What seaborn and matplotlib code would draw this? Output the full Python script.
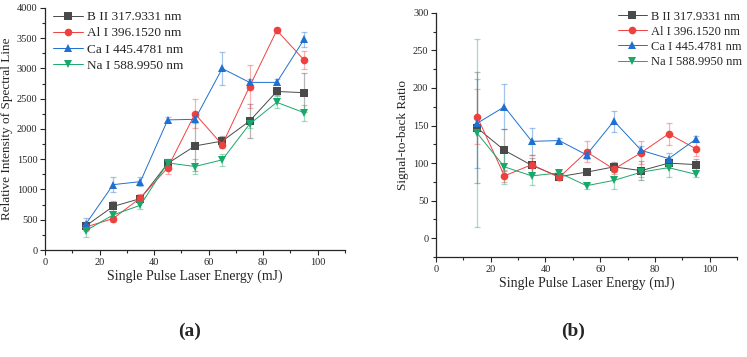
import matplotlib

matplotlib.use("Agg")
import matplotlib.pyplot as plt
import pandas as pd
import seaborn as sns
from matplotlib.ticker import MultipleLocator

energy = [15, 25, 35, 45, 55, 65, 75, 85, 95]
series = ["B II 317.9331 nm", "Al I 396.1520 nm", "Ca I 445.4781 nm", "Na I 588.9950 nm"]
colors = ["#4a4a4a", "#ef4040", "#1f70d0", "#18a86a"]
markers = ["s", "o", "^", "v"]

# (a) relative intensity of spectral line
int_b = [400, 720, 850, 1430, 1720, 1800, 2130, 2620, 2600]
int_al = [380, 520, 860, 1360, 2250, 1740, 2700, 3630, 3140]
int_ca = [430, 1080, 1130, 2150, 2160, 3000, 2770, 2770, 3480]
int_na = [320, 580, 740, 1440, 1380, 1490, 2080, 2440, 2270]
err_int_b = [60, 90, 60, 80, 420, 80, 280, 60, 320]
err_int_al = [60, 50, 60, 100, 240, 60, 350, 40, 150]
err_int_ca = [100, 120, 80, 40, 60, 280, 60, 50, 120]
err_int_na = [110, 60, 60, 60, 130, 100, 60, 100, 130]

# (b) signal-to-back ratio
sbr_b = [147, 117, 97, 82, 88, 95, 90, 100, 98]
sbr_al = [162, 83, 98, 81, 115, 92, 114, 139, 119]
sbr_ca = [153, 175, 129, 130, 111, 156, 117, 106, 132]
sbr_na = [140, 95, 83, 87, 70, 77, 88, 94, 85]
err_sbr_b = [74, 28, 10, 4, 4, 6, 13, 6, 7]
err_sbr_al = [36, 8, 13, 4, 14, 6, 15, 15, 10]
err_sbr_ca = [59, 30, 18, 3, 6, 14, 6, 8, 4]
err_sbr_na = [125, 23, 12, 3, 4, 11, 6, 13, 4]


def long_table(vals, errs):
    rows = []
    for name, v, e in zip(series, vals, errs):
        for x, y, s in zip(energy, v, e):
            rows.append({"energy": x, "value": y, "err": s, "line": name})
    return pd.DataFrame(rows)


df_a = long_table([int_b, int_al, int_ca, int_na],
                  [err_int_b, err_int_al, err_int_ca, err_int_na])
df_b = long_table([sbr_b, sbr_al, sbr_ca, sbr_na],
                  [err_sbr_b, err_sbr_al, err_sbr_ca, err_sbr_na])

sns.set_theme(style="ticks")
plt.rcParams["font.family"] = ["Liberation Serif", "DejaVu Serif"]
palette = dict(zip(series, colors))
mk = dict(zip(series, markers))

fig = plt.figure(figsize=(7.47, 3.57), dpi=100)
ax_a = fig.add_axes([0.0602, 0.2997, 0.4016, 0.678])
ax_b = fig.add_axes([0.5837, 0.2800, 0.4030, 0.684])


def draw(ax, df):
    for name in series:
        sub = df[df["line"] == name]
        ax.errorbar(sub["energy"], sub["value"], yerr=sub["err"], fmt="none",
                    ecolor=palette[name], alpha=0.4, elinewidth=0.9,
                    capsize=2.5, capthick=0.9, zorder=1)
    sns.lineplot(data=df, x="energy", y="value", hue="line", style="line",
                 hue_order=series, style_order=series, palette=palette,
                 markers=mk, dashes=False, markersize=5.5, linewidth=0.7,
                 markeredgewidth=0, ax=ax, zorder=3)
    ax.set_xlim(0, 110)
    ax.xaxis.set_major_locator(MultipleLocator(20))
    ax.xaxis.set_minor_locator(MultipleLocator(10))
    ax.set_xlabel("Single Pulse Laser Energy (mJ)", fontsize=10, labelpad=2)
    for side in ["top", "right"]:
        ax.spines[side].set_visible(False)
    ax.spines["left"].set_linewidth(0.9)
    ax.spines["bottom"].set_linewidth(0.9)
    ax.tick_params(which="major", length=3.5, width=0.8, labelsize=7.5, pad=2)
    ax.tick_params(which="minor", length=2, width=0.8)
    ax.get_legend().remove()


draw(ax_a, df_a)
ax_a.set_ylim(0, 4000)
ax_a.yaxis.set_major_locator(MultipleLocator(500))
ax_a.yaxis.set_minor_locator(MultipleLocator(250))
ax_a.set_ylabel("Relative Intensity of Spectral Line", fontsize=9.5, labelpad=3)

draw(ax_b, df_b)
ax_b.set_ylim(-25, 300)
ax_b.yaxis.set_major_locator(MultipleLocator(50))
ax_b.yaxis.set_minor_locator(MultipleLocator(25))
ax_b.set_ylabel("Signal-to-back Ratio", fontsize=9.5, labelpad=3)

handles, labels = ax_a.get_legend_handles_labels()
leg_a = ax_a.legend(handles, labels, loc="upper left", bbox_to_anchor=(0.0, 1.02),
                    fontsize=9.5, frameon=False, handlelength=2.3,
                    handletextpad=0.3, labelspacing=0.3, borderaxespad=0.2)
handles, labels = ax_b.get_legend_handles_labels()
ax_b.legend(handles, labels, loc="upper right", bbox_to_anchor=(1.04, 1.04),
            fontsize=9, frameon=False, handlelength=2.3, handletextpad=0.3,
            labelspacing=0.25, borderaxespad=0.2)

fig.text(0.254, 0.06, "(a)", fontsize=14, fontweight="bold", ha="center")
fig.text(0.767, 0.06, "(b)", fontsize=14, fontweight="bold", ha="center")

fig.savefig("out.png", dpi=100)
